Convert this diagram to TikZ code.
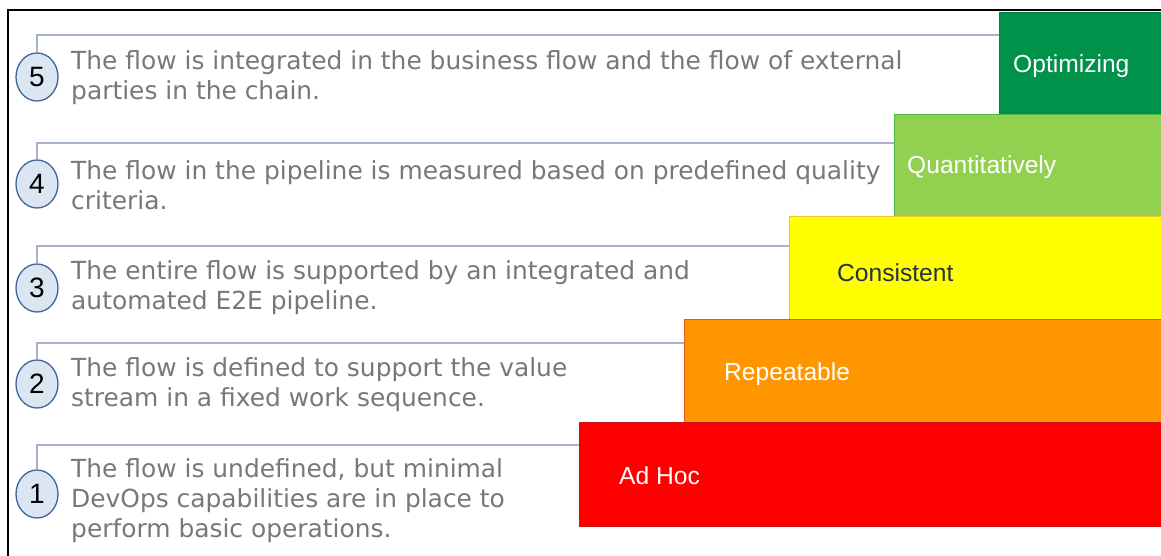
\documentclass[tikz,border=0pt]{standalone}
\usepackage{fontspec}
\usetikzlibrary{shapes.geometric}
\newfontfamily\descfont{DejaVu Sans}
\newfontfamily\labfont{Liberation Sans}
\definecolor{dkgreen}{RGB}{0,145,75}
\definecolor{ltgreen}{RGB}{146,208,80}
\definecolor{lvyellow}{RGB}{255,255,0}
\definecolor{lvorange}{RGB}{255,150,0}
\definecolor{lvred}{RGB}{255,0,0}
\definecolor{circfill}{RGB}{220,230,243}
\definecolor{circline}{RGB}{65,100,150}
\definecolor{connline}{RGB}{166,178,202}
\definecolor{txtgray}{RGB}{120,120,120}
\definecolor{darktxt}{RGB}{40,50,62}
\begin{document}
\begin{tikzpicture}[x=1pt,y=-1pt,
  frame/.style={draw=black,line width=2pt},
  levelbox/.style={rectangle,anchor=north west,inner sep=0pt,line width=1pt},
  lab/.style={anchor=west,inner sep=0pt,font=\labfont\fontsize{24.6}{28}\selectfont,text=white},
  circ/.style={ellipse,draw=circline,fill=circfill,line width=1.3pt,minimum width=42pt,minimum height=48pt,inner sep=0pt,font=\labfont\fontsize{28}{30}\selectfont,text=black},
  conn/.style={draw=connline,line width=1.4pt},
  desc/.style={anchor=west,inner sep=0pt,align=left,font=\descfont\fontsize{24.9}{30}\selectfont,text=txtgray}]
\useasboundingbox (0,0) rectangle (1161,556);
\fill[white] (0,0) rectangle (1161,556);

% number circles
\node[circ] (c5) at (37,77) {5};
\node[circ] (c4) at (37,184) {4};
\node[circ] (c3) at (37,288) {3};
\node[circ] (c2) at (37,384) {2};
\node[circ] (c1) at (37,494) {1};

% level boxes
\node[levelbox,fill=dkgreen,draw=dkgreen!90!black,minimum width=166pt,minimum height=103pt] (b5) at (999,12) {};
\node[levelbox,fill=ltgreen,draw={rgb,255:red,80;green,185;blue,72},minimum width=271pt,minimum height=102pt] (b4) at (894,114) {};
\node[levelbox,fill=lvyellow,draw={rgb,255:red,245;green,195;blue,40},minimum width=376pt,minimum height=103pt] (b3) at (789,216) {};
\node[levelbox,fill=lvorange,draw={rgb,255:red,225;green,90;blue,30},minimum width=481pt,minimum height=103pt] (b2) at (684,319) {};
\node[levelbox,fill=lvred,draw={rgb,255:red,200;green,20;blue,20},minimum width=586pt,minimum height=104pt] (b1) at (579,422) {};

% connectors
\coordinate (k5) at (b5.north west |- 0,35);
\coordinate (k4) at (b4.north west |- 0,143);
\coordinate (k3) at (b3.north west |- 0,246);
\coordinate (k2) at (b2.north west |- 0,343);
\coordinate (k1) at (b1.north west |- 0,445);
\draw[conn] (c5.north) |- (k5);
\draw[conn] (c4.north) |- (k4);
\draw[conn] (c3.north) |- (k3);
\draw[conn] (c2.north) |- (k2);
\draw[conn] (c1.north) |- (k1);

% labels in boxes
\node[lab] (l5) at (1013,66) {Optimizing};
\node[lab] (l4) at (907,167) {Quantitatively};
\node[lab,text=darktxt] (l3) at (837,273) {Consistent};
\node[lab] (l2) at (724,374) {Repeatable};
\node[lab] (l1) at (619,476) {Ad Hoc};

% descriptions
\node[desc] (t5) at (71,78) {The flow is integrated in the business flow and the flow of external\\parties in the chain.};
\node[desc] (t4) at (71,185.5) {The flow in the pipeline is measured based on predefined quality\\criteria.};
\node[desc] (t3) at (71,287.5) {The entire flow is supported by an integrated and\\automated E2E pipeline.};
\node[desc] (t2) at (71,385) {The flow is defined to support the value\\stream in a fixed work sequence.};
\node[desc] (t1) at (71,501) {The flow is undefined, but minimal\\DevOps capabilities are in place to\\perform basic operations.};

% frame
\draw[frame] (8,556) -- (8,10) -- (1161,10);
\end{tikzpicture}
\end{document}
